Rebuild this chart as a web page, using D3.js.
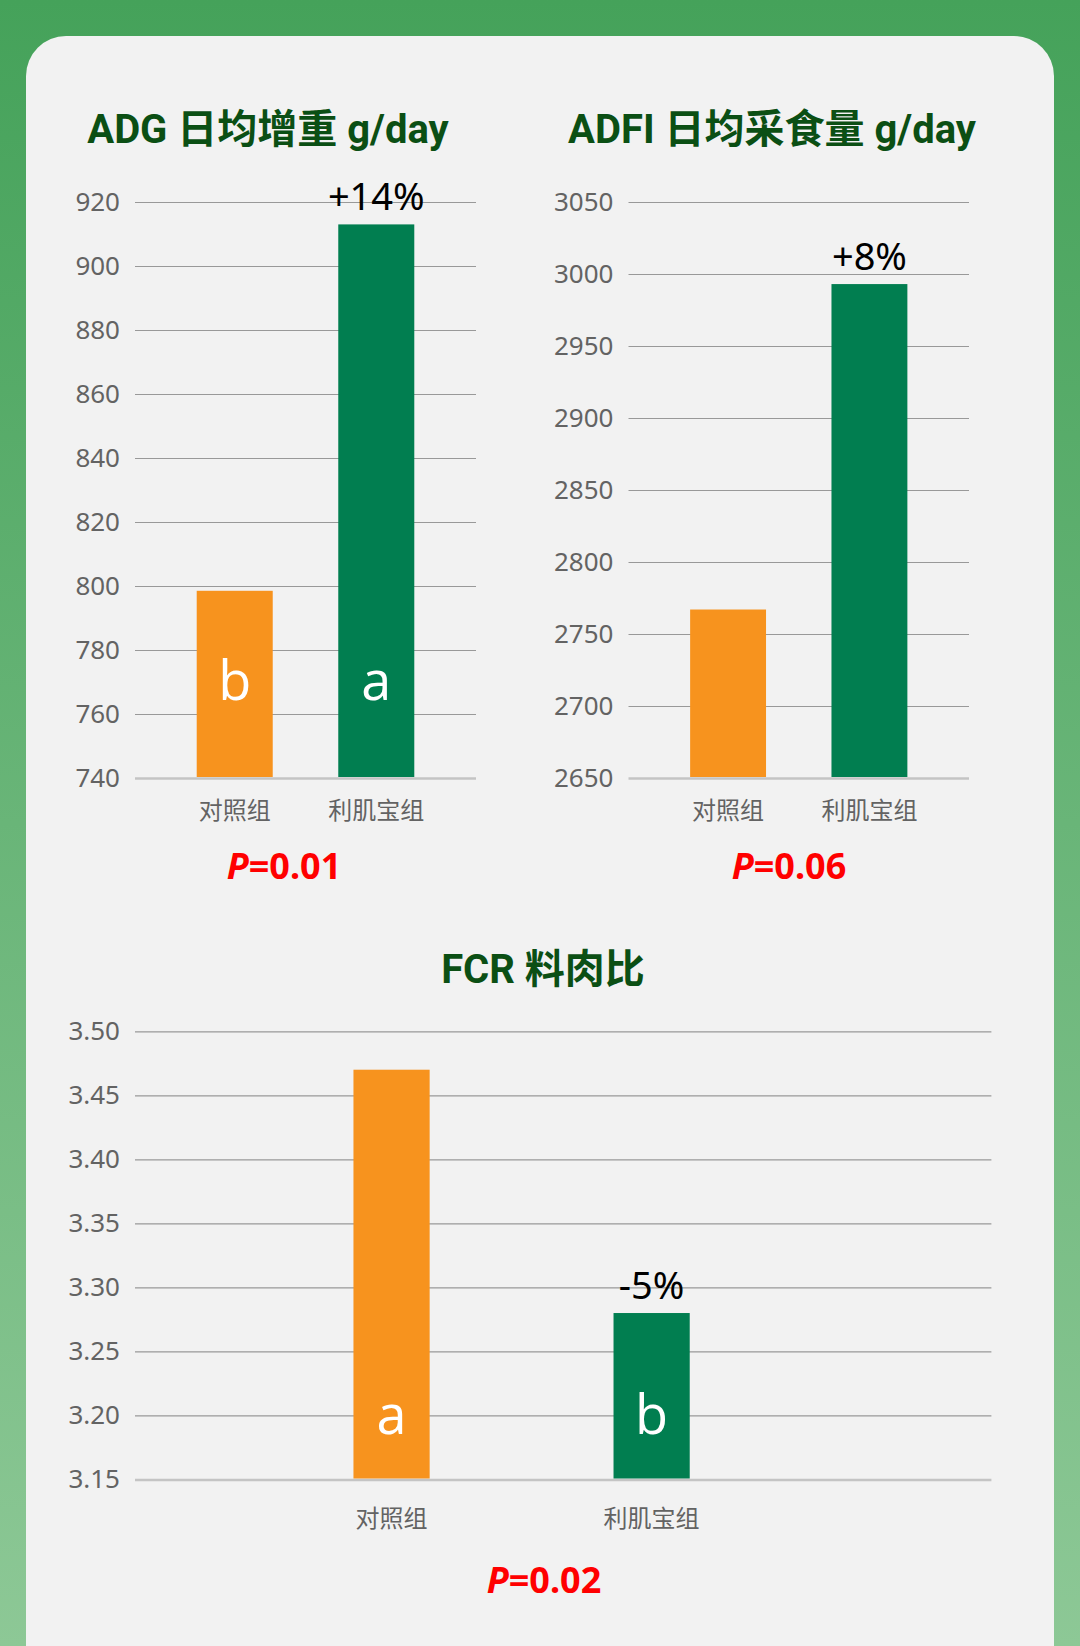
<!DOCTYPE html>
<html>
<head>
<meta charset="utf-8">
<script src="https://cdn.jsdelivr.net/npm/d3@7"></script>
<style>
  html, body { margin: 0; padding: 0; }
  body { width: 1080px; height: 1646px; overflow: hidden; }
  svg { display: block; font-family: "Noto Sans", "Noto Sans CJK SC", sans-serif; }
</style>
</head>
<body>
<svg id="chart" width="1080" height="1646"></svg>
<script>
// dados
let grupos = ["对照组", "利肌宝组"];

let adg_valores = [798.5, 913];
let adg_letras = ["b", "a"];
let adg_variacao = ["", "+14%"];
let adg_ticks = [740, 760, 780, 800, 820, 840, 860, 880, 900, 920];

let adfi_valores = [2767, 2993];
let adfi_letras = ["", ""];
let adfi_variacao = ["", "+8%"];
let adfi_ticks = [2650, 2700, 2750, 2800, 2850, 2900, 2950, 3000, 3050];

let fcr_valores = [3.47, 3.28];
let fcr_letras = ["a", "b"];
let fcr_variacao = ["", "-5%"];
let fcr_ticks = [3.15, 3.20, 3.25, 3.30, 3.35, 3.40, 3.45, 3.50];

let titulos = ["ADG 日均增重 g/day", "ADFI 日均采食量 g/day", "FCR 料肉比"];
let p_valores = ["0.01", "0.06", "0.02"];

// cores
let cor_barras = ["#f7931e", "#017e50"];
let cor_titulo = "#0b4f14";
let cor_texto = "#636363";

let svg = d3.select("#chart");

// fundo verde + cartao
let defs = svg.append("defs");
let grad = defs.append("linearGradient")
  .attr("id", "fundo")
  .attr("x1", 0).attr("y1", 0).attr("x2", 0).attr("y2", 1);
grad.append("stop").attr("offset", "0%").attr("stop-color", "#45a25a");
grad.append("stop").attr("offset", "100%").attr("stop-color", "#8dc896");

svg.append("rect")
  .attr("width", 1080).attr("height", 1646)
  .attr("fill", "url(#fundo)");

svg.append("rect")
  .attr("x", 26).attr("y", 36)
  .attr("width", 1028).attr("height", 1700)
  .attr("rx", 40).attr("ry", 40)
  .attr("fill", "#f2f2f2");

// layout de cada grafico
let graficos = [
  {
    valores: adg_valores, letras: adg_letras, variacao: adg_variacao, ticks: adg_ticks,
    titulo: titulos[0], p: p_valores[0], formato: d3.format("d"),
    x0: 135, x1: 476, y0: 778, y1: 202,
    pad_in: 0.463, pad_out: 0.436, align: 0.5,
    titulo_x: 268, titulo_y: 143, p_x: 284, p_y: 879,
    cat_pad: 24, letra_y: 700
  },
  {
    valores: adfi_valores, letras: adfi_letras, variacao: adfi_variacao, ticks: adfi_ticks,
    titulo: titulos[1], p: p_valores[1], formato: d3.format("d"),
    x0: 628.5, x1: 969, y0: 778, y1: 202,
    pad_in: 0.463, pad_out: 0.436, align: 0.5,
    titulo_x: 772, titulo_y: 143, p_x: 789, p_y: 879,
    cat_pad: 24, letra_y: 700
  },
  {
    valores: fcr_valores, letras: fcr_letras, variacao: fcr_variacao, ticks: fcr_ticks,
    titulo: titulos[2], p: p_valores[2], formato: d3.format(".2f"),
    x0: 135, x1: 991.4, y0: 1479.5, y1: 1031.3,
    pad_in: 0.707, pad_out: 1.0, align: 0.42,
    titulo_x: 543, titulo_y: 983, p_x: 544, p_y: 1593,
    cat_pad: 30, letra_y: 1434
  }
];

graficos.forEach(desenha_grafico);

function desenha_grafico(g) {
  let x = d3.scaleBand()
    .domain(grupos)
    .range([g.x0, g.x1])
    .paddingInner(g.pad_in)
    .paddingOuter(g.pad_out)
    .align(g.align);

  let y = d3.scaleLinear()
    .domain(d3.extent(g.ticks))
    .range([g.y0, g.y1]);

  let base = y.domain()[0];

  // grade + rotulos do eixo y
  let eixo_y = svg.append("g")
    .attr("transform", "translate(" + g.x0 + ",0)")
    .call(d3.axisLeft(y)
      .tickValues(g.ticks)
      .tickFormat(g.formato)
      .tickSize(-(g.x1 - g.x0))
      .tickPadding(15));

  eixo_y.select(".domain").remove();
  eixo_y.selectAll(".tick line")
    .attr("stroke", d => d == base ? "#c4c4c4" : "#999999")
    .attr("stroke-width", d => d == base ? 2.5 : 1.2);
  eixo_y.selectAll(".tick text")
    .attr("fill", cor_texto)
    .attr("font-size", 26)
    .attr("font-family", "'Noto Sans', sans-serif");

  // barras
  let dados = grupos.map((d, i) => ({
    grupo: d,
    valor: g.valores[i],
    letra: g.letras[i],
    variacao: g.variacao[i],
    cor: cor_barras[i]
  }));

  svg.append("g")
    .selectAll("rect")
    .data(dados)
    .join("rect")
      .attr("x", d => x(d.grupo))
      .attr("y", d => y(d.valor))
      .attr("width", x.bandwidth())
      .attr("height", d => y(base) - y(d.valor) - 1)
      .attr("fill", d => d.cor);

  // letras de significancia
  svg.append("g")
    .selectAll("text")
    .data(dados.filter(d => d.letra))
    .join("text")
      .attr("x", d => x(d.grupo) + x.bandwidth() / 2)
      .attr("y", g.letra_y)
      .attr("text-anchor", "middle")
      .attr("fill", "#ffffff")
      .attr("font-size", 54)
      .attr("font-family", "'Open Sans', 'Noto Sans', sans-serif")
      .text(d => d.letra);

  // variacao percentual
  svg.append("g")
    .selectAll("text")
    .data(dados.filter(d => d.variacao))
    .join("text")
      .attr("x", d => x(d.grupo) + x.bandwidth() / 2)
      .attr("y", d => y(d.valor) - 14)
      .attr("text-anchor", "middle")
      .attr("fill", "#000000")
      .attr("font-size", 38)
      .text(d => d.variacao);

  // eixo x (categorias)
  let eixo_x = svg.append("g")
    .attr("transform", "translate(0," + g.y0 + ")")
    .call(d3.axisBottom(x).tickSize(0).tickPadding(g.cat_pad));

  eixo_x.select(".domain").remove();
  eixo_x.selectAll(".tick text")
    .attr("fill", cor_texto)
    .attr("font-size", 24)
    .attr("font-family", "'Noto Sans CJK SC', sans-serif");

  // titulo
  svg.append("text")
    .attr("x", g.titulo_x)
    .attr("y", g.titulo_y)
    .attr("text-anchor", "middle")
    .attr("fill", cor_titulo)
    .attr("font-size", 40)
    .attr("font-weight", "bold")
    .attr("font-family", "Roboto, 'Noto Sans CJK SC', sans-serif")
    .text(g.titulo);

  // valor de P
  let p_txt = svg.append("text")
    .attr("x", g.p_x)
    .attr("y", g.p_y)
    .attr("text-anchor", "middle")
    .attr("fill", "#ff0000")
    .attr("font-size", 36)
    .attr("font-weight", "bold");

  p_txt.append("tspan").attr("font-style", "italic").text("P");
  p_txt.append("tspan").text("=" + g.p);
}
</script>
</body>
</html>
